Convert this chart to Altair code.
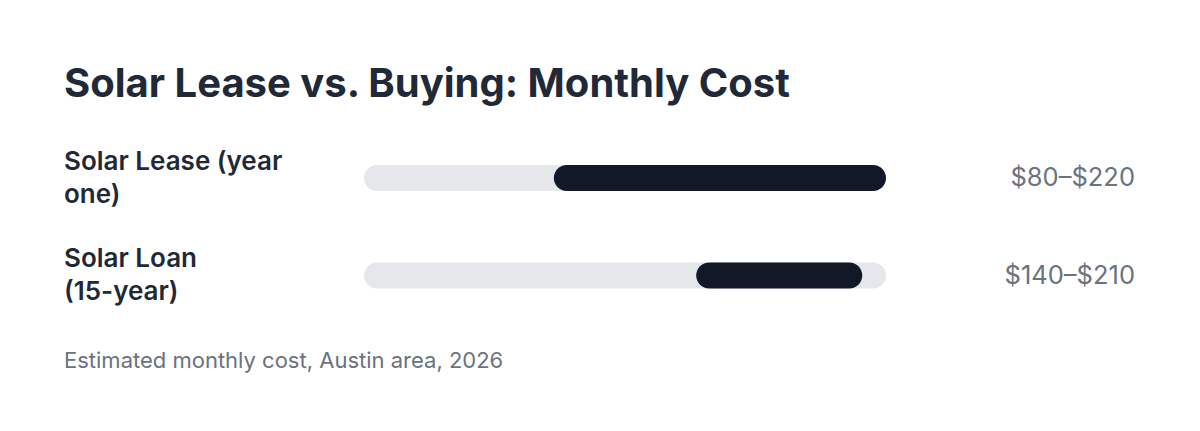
import altair as alt
import pandas as pd

categories = ["Solar Lease (year one)", "Solar Loan (15-year)"]
label_lines = ["Solar Lease (year|one)", "Solar Loan|(15-year)"]
low = [80, 140]
high = [220, 210]
scale_max = 220

df = pd.DataFrame({
    "category": categories,
    "lines": label_lines,
    "low": low,
    "high": high,
    "zero": [0, 0],
    "max": [scale_max, scale_max],
})

W = 1071
H = 280

x_scale = alt.Scale(domain=[0, scale_max], range=[300, 822])
y_scale = alt.Scale(type="point", domain=categories, range=[48, 145.5], padding=0)

base = alt.Chart(df)

track = base.mark_bar(size=26, cornerRadius=13, color="#e5e7eb").encode(
    y=alt.Y("category:N", scale=y_scale, axis=None),
    x=alt.X("zero:Q", scale=x_scale, axis=None),
    x2="max:Q",
)

rng = base.mark_bar(size=26, cornerRadius=13, color="#111827").encode(
    y=alt.Y("category:N", scale=y_scale, axis=None),
    x=alt.X("low:Q", scale=x_scale, axis=None),
    x2="high:Q",
)

labels = base.transform_calculate(
    txt="split(datum.lines, '|')"
).mark_text(
    align="left", baseline="middle", font="Inter", fontSize=26, fontWeight=600,
    color="#1f2937", lineHeight=33, dy=-16.5,
).encode(
    y=alt.Y("category:N", scale=y_scale, axis=None),
    x=alt.value(0),
    text="txt:N",
)

values = base.transform_calculate(
    txt="'$' + datum.low + '–$' + datum.high"
).mark_text(
    align="right", baseline="middle", font="Inter", fontSize=25.5, fontWeight=400,
    color="#6b7280",
).encode(
    y=alt.Y("category:N", scale=y_scale, axis=None),
    x=alt.value(W),
    text="txt:N",
)

footer = alt.Chart(pd.DataFrame({"t": ["Estimated monthly cost, Austin area, 2026"]})).mark_text(
    align="left", baseline="middle", font="Inter", fontSize=22, color="#6b7280",
).encode(
    x=alt.value(0),
    y=alt.value(231),
    text="t:N",
)

chart = alt.layer(track, rng, labels, values, footer).properties(
    width=W,
    height=H,
    background="white",
    padding={"left": 56, "top": 122, "right": 0, "bottom": 0},
    autosize=alt.AutoSizeParams(type="none"),
    title=alt.TitleParams(
        "Solar Lease vs. Buying: Monthly Cost",
        anchor="start", font="Inter", fontSize=40, fontWeight=700,
        color="#1f2937", offset=25,
    ),
).configure_view(strokeWidth=0, stroke="transparent")

chart.save("out.html", embed_options={"renderer": "svg", "actions": False})
